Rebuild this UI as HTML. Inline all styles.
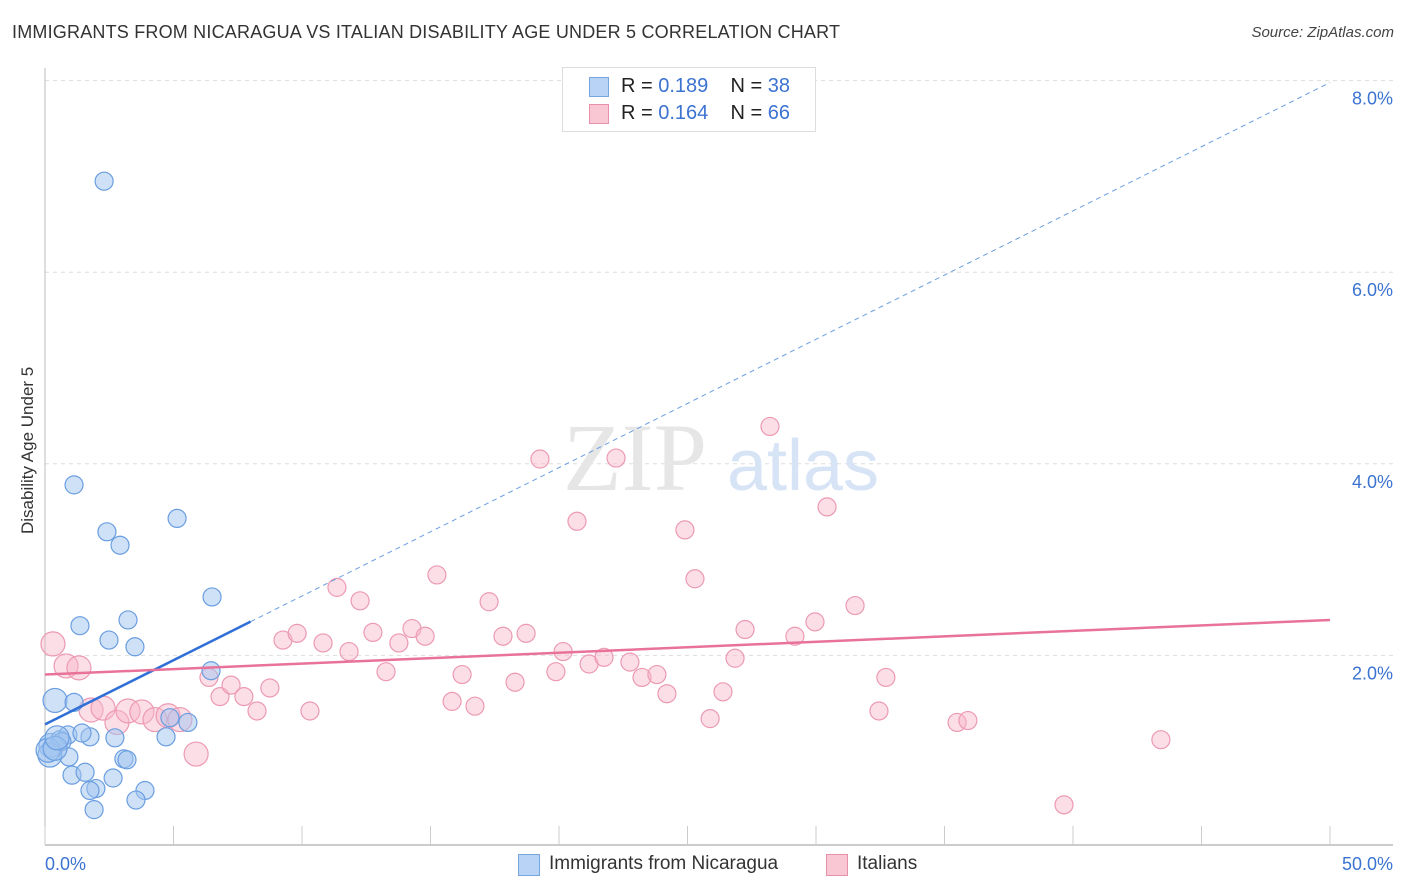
<!DOCTYPE html>
<html><head><meta charset="utf-8"><style>
body{margin:0;background:#fff;font-family:"Liberation Sans",sans-serif;}
#wrap{position:relative;width:1406px;height:892px;overflow:hidden;}
.t{position:absolute;white-space:nowrap;}
</style></head><body>
<div id="wrap">
<div class="t" style="left:12px;top:22px;font-size:18px;color:#333;letter-spacing:0.2px">IMMIGRANTS FROM NICARAGUA VS ITALIAN DISABILITY AGE UNDER 5 CORRELATION CHART</div>
<div class="t" style="right:12px;top:24px;font-size:15px;color:#444;font-style:italic">Source: ZipAtlas.com</div>
<div class="t" style="left:-52px;top:444px;font-size:17px;color:#333;transform:rotate(-90deg);transform-origin:center;width:160px;text-align:center">Disability Age Under 5</div>
<svg id="svg" width="1406" height="892" style="position:absolute;left:0;top:0"></svg>
<div style="position:absolute;left:562px;top:67px;width:252px;height:63px;border:1px solid #ddd;background:#fff;font-size:20px;color:#222">
 <div style="position:absolute;left:26px;top:9px;width:18px;height:18px;background:#b8d3f5;border:1px solid #7aa6e0"></div>
 <div class="t" style="left:58px;top:7px">R = <span style="color:#3b73d1">0.189</span>&nbsp;&nbsp;&nbsp; N = <span style="color:#3b73d1">38</span></div>
 <div style="position:absolute;left:26px;top:36px;width:18px;height:18px;background:#f9c6d4;border:1px solid #e890aa"></div>
 <div class="t" style="left:58px;top:34px">R = <span style="color:#3b73d1">0.164</span>&nbsp;&nbsp;&nbsp; N = <span style="color:#3b73d1">66</span></div>
</div>
<div>
 <div style="position:absolute;left:518px;top:854px;width:20px;height:20px;background:#b8d3f5;border:1px solid #7aa6e0"></div>
 <div class="t" style="left:549px;top:853px;font-size:19px;color:#333">Immigrants from Nicaragua</div>
 <div style="position:absolute;left:826px;top:854px;width:20px;height:20px;background:#f9c6d4;border:1px solid #e890aa"></div>
 <div class="t" style="left:857px;top:853px;font-size:19px;color:#333">Italians</div>
</div>
</div>
<script>
const blueX=[2.30,1.13,2.41,2.92,5.14,6.50,3.23,1.36,2.49,3.50,6.46,0.39,1.13,0.23,0.58,0.89,0.66,1.75,1.44,0.93,1.05,1.56,2.65,3.07,3.19,1.98,1.75,3.89,3.54,1.91,4.71,5.56,4.86,0.19,0.12,0.39,0.47,2.72];
const blueY=[6.95,3.78,3.29,3.15,3.43,2.61,2.37,2.31,2.16,2.09,1.84,1.53,1.51,1.06,1.12,1.17,1.10,1.15,1.19,0.94,0.75,0.78,0.72,0.92,0.91,0.61,0.59,0.59,0.49,0.39,1.15,1.30,1.35,0.96,1.01,1.03,1.14,1.14];
const pinkX=[0.31,0.82,1.32,1.79,2.26,2.80,3.23,3.77,4.28,4.79,5.25,5.88,6.38,6.81,7.24,7.74,8.25,8.75,9.26,9.81,10.31,10.82,11.36,11.83,12.26,12.76,13.27,13.77,14.28,14.79,15.25,15.84,16.23,16.73,17.28,17.82,18.29,18.72,19.26,19.88,20.16,20.70,21.17,21.75,22.22,22.76,23.23,23.81,24.20,24.90,25.29,25.88,26.38,26.85,27.24,28.21,29.18,29.96,30.43,31.52,32.45,32.72,35.49,35.91,39.65,43.42];
const pinkY=[2.12,1.89,1.87,1.43,1.45,1.30,1.42,1.41,1.33,1.37,1.33,0.97,1.77,1.57,1.69,1.57,1.42,1.66,2.16,2.23,1.42,2.13,2.71,2.04,2.57,2.24,1.83,2.13,2.28,2.20,2.84,1.52,1.80,1.47,2.56,2.20,1.72,2.23,4.05,1.83,2.04,3.40,1.91,1.98,4.06,1.93,1.77,1.80,1.60,3.31,2.80,1.34,1.62,1.97,2.27,4.39,2.20,2.35,3.55,2.52,1.42,1.77,1.30,1.32,0.44,1.12];
const blueTrend=[1.28,0.134];
const pinkTrend=[1.80,0.0114];
const yTicks=[2,4,6,8];
const yTickLabels=["2.0%","4.0%","6.0%","8.0%"];
const xTicks=[0,5,10,15,20,25,30,35,40,45,50];

const X0=45,X1=1330,Y0=847;
const sx=v=>X0+(v/50)*(X1-X0);
const sy=v=>Y0-v*95.8;
const svg=document.getElementById('svg');
const NS='http://www.w3.org/2000/svg';
function mk(tag,attrs){const e=document.createElementNS(NS,tag);for(const k in attrs)e.setAttribute(k,attrs[k]);svg.appendChild(e);return e;}

yTicks.forEach((t,i)=>{
 const g=mk('line',{x1:45,x2:1393,y1:sy(t),y2:sy(t),stroke:'#ddd','stroke-dasharray':'4,4'});
 
 
 const l=mk('text',{x:1393,y:sy(t)+24,'text-anchor':'end','font-size':18,fill:'#3b73d1','font-family':'Liberation Sans, sans-serif'});
 l.textContent=yTickLabels[i];
 
 
});
const ya=mk('line',{x1:45,x2:45,y1:68,y2:845,stroke:'#bbb'});


const xa=mk('line',{x1:45,x2:1393,y1:845,y2:845,stroke:'#bbb','stroke-width':1.5});


xTicks.forEach(t=>{
 const k=mk('line',{x1:sx(t),x2:sx(t),y1:826,y2:845,stroke:'#ccc'});
 
 
});
[[0,'0.0%','start',45],[50,'50.0%','end',1393]].forEach(a=>{
 const l=mk('text',{x:a[3],y:870,'text-anchor':a[2],'font-size':18,fill:'#3b73d1','font-family':'Liberation Sans, sans-serif'});
 l.textContent=a[1];
 
 
});
const w1=mk('text',{x:635,y:490,'text-anchor':'middle','font-size':96,fill:'#e6e6e6','font-family':'Liberation Serif, serif'});
w1.textContent='ZIP';


const w2=mk('text',{x:803,y:490,'text-anchor':'middle','font-size':72,fill:'#d6e4f6','font-family':'Liberation Sans, sans-serif'});
w2.textContent='atlas';



pinkX.forEach((x,i)=>{
 const c=mk('circle',{cx:sx(x),cy:sy(pinkY[i]),r:x<6?12:9,fill:'rgba(248,182,202,0.45)',stroke:'#ec9ab3','stroke-width':1.2});
 
 
});
blueX.forEach((x,i)=>{
 const c=mk('circle',{cx:sx(x),cy:sy(blueY[i]),r:x<0.5?12:9,fill:'rgba(160,196,240,0.5)',stroke:'#6a9ee0','stroke-width':1.2});
 
 
});
const bt=x=>blueTrend[0]+blueTrend[1]*x;
const pt=x=>pinkTrend[0]+pinkTrend[1]*x;
const bd=mk('line',{x1:sx(8),y1:sy(bt(8)),x2:sx(50),y2:sy(bt(50)),stroke:'#6a9ee0','stroke-dasharray':'5,4','stroke-width':1});


const bs=mk('line',{x1:sx(0),y1:sy(bt(0)),x2:sx(8),y2:sy(bt(8)),stroke:'#2f6fd6','stroke-width':2.5});


const ps=mk('line',{x1:sx(0),y1:sy(pt(0)),x2:sx(50),y2:sy(pt(50)),stroke:'#e8729a','stroke-width':2.5});


</script>
</body></html>
